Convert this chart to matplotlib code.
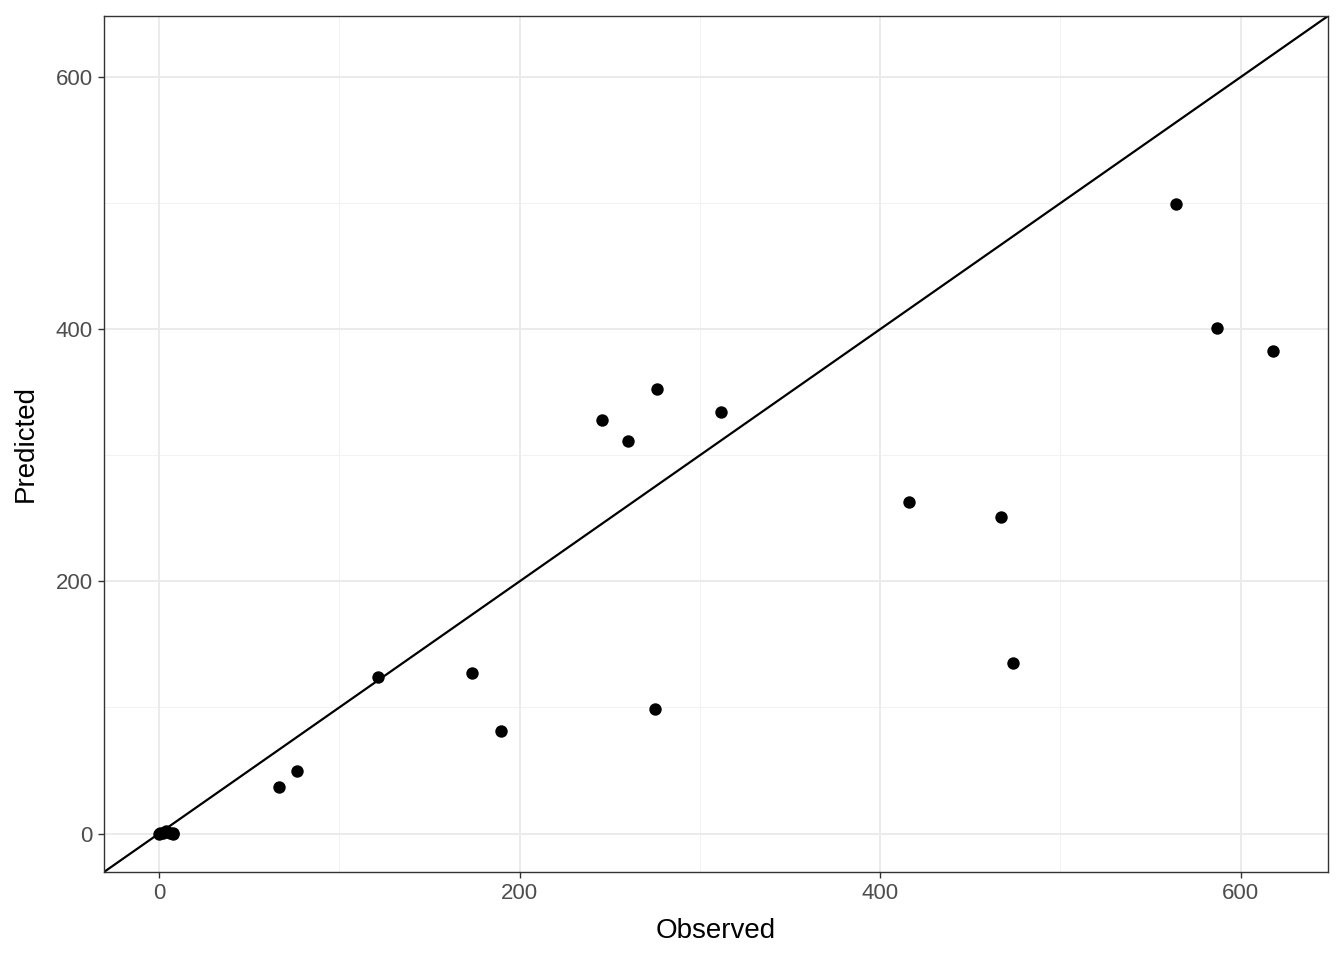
import matplotlib
matplotlib.use("Agg")
import matplotlib.pyplot as plt
import numpy as np

plt.rcParams['font.family'] = ['Liberation Sans', 'DejaVu Sans']

# observed vs predicted values
observed = [0, 0.5, 2, 4, 6, 7.5, 8,
            66.5, 76.5, 121.5, 173.5, 190, 246, 260, 275, 276, 312,
            416, 467, 474, 564, 587, 618]
predicted = [0, 0.3, 0.5, 2, 0.5, 0.2, 0,
             37, 50, 124.5, 127, 81, 328, 311, 99, 352.5, 334,
             263, 251, 135.5, 499, 401, 383]

ticks_major = [0, 200, 400, 600]
ticks_minor = [100, 300, 500]

fig = plt.figure(figsize=(13.44, 9.6), dpi=100)
ax = fig.add_axes([104 / 1344, 88 / 960, 1224 / 1344, 856 / 960])

lo, hi = -30.5, 648.5
ax.set_xlim(lo, hi)
ax.set_ylim(lo, hi)

# grid lines like theme_bw
for t in ticks_minor:
    ax.axvline(t, color='#F2F2F2', lw=0.7, zorder=0)
    ax.axhline(t, color='#F2F2F2', lw=0.7, zorder=0)
for t in ticks_major:
    ax.axvline(t, color='#EBEBEB', lw=1.4, zorder=0)
    ax.axhline(t, color='#EBEBEB', lw=1.4, zorder=0)

ax.plot([lo, hi], [lo, hi], color='black', lw=1.6, zorder=2)
ax.scatter(observed, predicted, s=80, color='black', zorder=3, linewidths=0)

ax.set_xticks(ticks_major)
ax.set_yticks(ticks_major)
ax.tick_params(axis='both', colors='#333333', labelcolor='#4D4D4D',
               labelsize=16, length=4.5, width=1.0, direction='out', pad=3.5)
for sp in ax.spines.values():
    sp.set_color('#333333')
    sp.set_linewidth(1.0)

ax.set_xlabel('Observed', fontsize=20, labelpad=10)
ax.set_ylabel('Predicted', fontsize=20, labelpad=12)

fig.savefig('out.png', dpi=100)
